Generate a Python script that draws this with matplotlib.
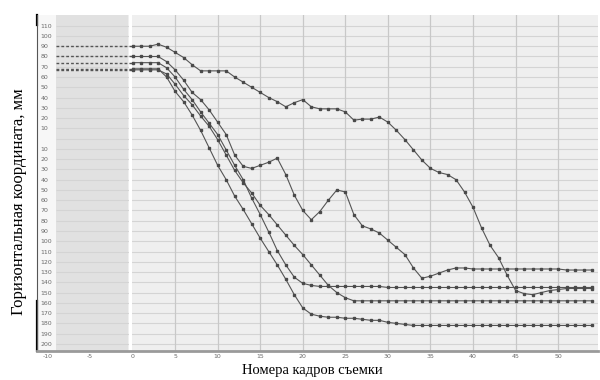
import matplotlib
matplotlib.use("Agg")
import matplotlib.pyplot as plt
import numpy as np

# Frame numbers (measured part) and pre-start level
frames = list(range(0, 55))
pre_start = -9

# Horizontal coordinate (mm) per frame, five tracked points
series_a = [-90, -90, -90, -92, -89, -84, -79, -72, -66, -66, -66, -66, -60, -55, -50,
            -45, -40, -36, -31, -35, -38, -31, -29, -29, -29, -26, -18, -19, -19, -21,
            -16, -8, 1, 11, 21, 29, 33, 35, 40, 52, 67, 87, 104, 116, 133,
            148, 151, 152, 150, 148, 147, 146, 146, 146, 146]
series_b = [-80, -80, -80, -80, -75, -67, -57, -45, -38, -28, -16, -4, 16, 27, 29,
            26, 23, 19, 35, 55, 70, 79, 71, 60, 50, 52, 74, 85, 88, 92,
            99, 106, 113, 126, 136, 134, 131, 128, 126, 126, 127, 127, 127, 127, 127,
            127, 127, 127, 127, 127, 127, 128, 128, 128, 128]
series_c = [-74, -74, -74, -74, -69, -60, -48, -38, -26, -15, -4, 11, 26, 40, 58,
            74, 91, 109, 123, 135, 141, 143, 144, 144, 144, 144, 144, 144, 144, 144,
            145, 145, 145, 145, 145, 145, 145, 145, 145, 145, 145, 145, 145, 145, 145,
            145, 145, 145, 145, 145, 145, 145, 145, 145, 145]
series_d = [-67, -67, -67, -67, -63, -53, -42, -33, -22, -12, 1, 16, 31, 43, 53,
            65, 74, 84, 94, 104, 113, 123, 133, 143, 150, 155, 158, 158, 158, 158,
            158, 158, 158, 158, 158, 158, 158, 158, 158, 158, 158, 158, 158, 158, 158,
            158, 158, 158, 158, 158, 158, 158, 158, 158, 158]
series_e = [-68, -68, -68, -68, -60, -46, -36, -23, -8, 9, 26, 40, 56, 69, 83,
            97, 110, 123, 137, 152, 165, 171, 173, 174, 174, 175, 175, 176, 177, 177,
            179, 180, 181, 182, 182, 182, 182, 182, 182, 182, 182, 182, 182, 182, 182,
            182, 182, 182, 182, 182, 182, 182, 182, 182, 182]
all_series = [series_a, series_b, series_c, series_d, series_e]

x_ticks = list(range(-10, 55, 5))
y_ticks = list(range(-110, 201, 10))
y_tick_labels = ["" if v == 0 else str(abs(v)) for v in y_ticks]

fig = plt.figure(figsize=(6.0, 3.8), dpi=100)
ax = fig.add_axes([0.062, 0.076, 0.935, 0.885])
ax.set_facecolor("#f7f7f7")

ax.set_xlim(-11.2, 54.7)
ax.set_ylim(207, -120.6)

# plot field and shaded pre-start zone
ax.axvspan(-9.0, 54.7, color="#efefef", zorder=0.3, lw=0)
ax.axvspan(-9.0, -0.5, color="#e1e1e1", zorder=0.5, lw=0)
ax.axvline(-0.25, color="white", lw=2.2, zorder=1)

ax.set_yticks(y_ticks)
ax.set_yticklabels(y_tick_labels)
ax.set_xticks(x_ticks)
ax.set_xticklabels([str(v) for v in x_ticks])
ax.hlines(y_ticks, -9.0, 54.7, color="#d4d4d4", lw=0.8, zorder=0.8)
for xv in x_ticks:
    if xv > 0:
        ax.axvline(xv, color="#c8c8c8", lw=0.9, zorder=0.8)

ax.tick_params(axis="both", labelsize=4.5, colors="#6a6a6a", length=0)
ax.tick_params(axis="x", pad=2)
ax.tick_params(axis="y", pad=-2.5)
for lbl in ax.get_yticklabels():
    lbl.set_horizontalalignment("left")
for sp in ["top", "right"]:
    ax.spines[sp].set_visible(False)
ax.spines["bottom"].set_color("#9a9a9a")
ax.spines["bottom"].set_linewidth(2)
ax.spines["left"].set_color("#555555")
ax.spines["left"].set_linewidth(0.8)
ax.plot([0, 0], [0.0, 0.15], transform=ax.transAxes, color="black", lw=1.6, clip_on=False)
ax.plot([0, 0], [0.97, 1.0], transform=ax.transAxes, color="black", lw=1.6, clip_on=False)

for s in all_series:
    ax.plot([pre_start, frames[0]], [s[0], s[0]], color="#555555", lw=1.0,
            ls=(0, (2, 1.5)), zorder=2)
    ax.plot(frames, s, color="#555555", lw=0.8, marker="s", ms=1.8,
            mfc="#4a4a4a", mec="#4a4a4a", zorder=3)

fig.text(0.52, 0.008, "Номера кадров съемки", ha="center", va="bottom",
         fontsize=10.5, family=["Liberation Serif", "DejaVu Serif"])
fig.text(0.018, 0.47, "Горизонтальная координата, мм", ha="left", va="center",
         rotation=90, fontsize=12, family=["Liberation Serif", "DejaVu Serif"])

fig.savefig("out.png", dpi=100, facecolor="white")
